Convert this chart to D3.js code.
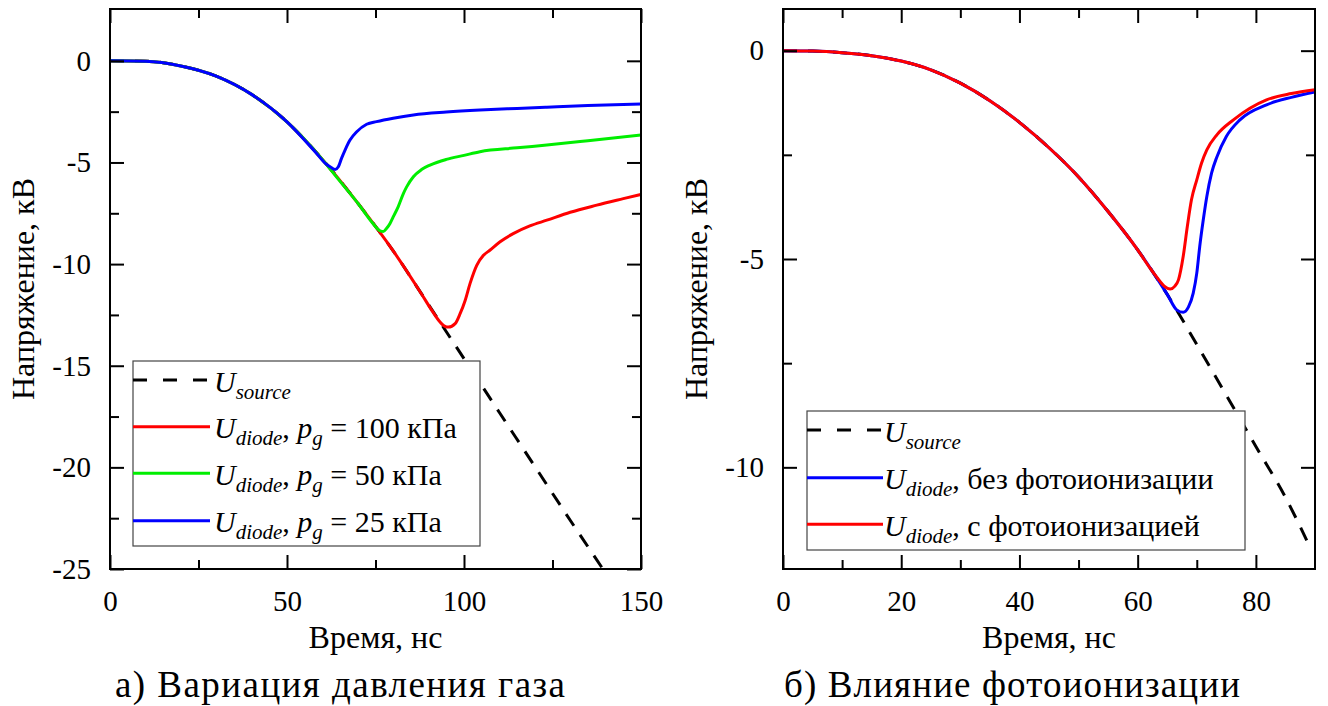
<!DOCTYPE html>
<html>
<head>
<meta charset="utf-8">
<script src="https://cdn.jsdelivr.net/npm/d3@7"></script>
<style>
  body { margin: 0; background: #fff; }
  svg text, svg tspan { font-family: 'Liberation Serif', 'Times New Roman', Times, serif; }
</style>
</head>
<body>
<script>
// ---- panel а: gas pressure variation ----
var tSourceA = [0, 10, 20, 30, 40, 50, 60, 70, 80, 90, 100, 110, 120, 130, 140, 150];
var uSourceA = [0, -0.02, -0.25, -0.75, -1.65, -3.0, -4.85, -7.0, -9.35, -12.0, -14.65, -17.3, -19.95, -22.6, -25.2, -27.8];

var t100 = [0, 10, 20, 30, 40, 50, 60, 70, 80, 88, 91, 93, 94.5, 95.6, 97.5, 98.9, 100.3, 101.7, 103.6, 105.5, 107.3, 110.2, 113.9, 118.6, 123.4, 130, 137.5, 145, 150];
var u100 = [0, -0.02, -0.25, -0.75, -1.65, -3.0, -4.85, -7.0, -9.35, -11.47, -12.3, -12.8, -13.05, -13.1, -12.93, -12.44, -11.8, -10.96, -10.06, -9.57, -9.32, -8.9, -8.5, -8.12, -7.84, -7.45, -7.1, -6.78, -6.57];

var t50 = [0, 10, 20, 30, 40, 50, 60, 65, 70, 74, 75.5, 76.5, 77.2, 78.1, 79.1, 80, 81.4, 82.9, 83.8, 85.7, 88, 90.4, 95, 100, 104.5, 115, 123.4, 135, 150];
var u50 = [0, -0.02, -0.25, -0.75, -1.65, -3.0, -4.85, -5.93, -7.0, -7.94, -8.25, -8.38, -8.4, -8.25, -8.0, -7.68, -7.18, -6.52, -6.2, -5.7, -5.35, -5.13, -4.85, -4.65, -4.47, -4.28, -4.14, -3.93, -3.65];

var t25 = [0, 10, 20, 30, 40, 50, 58, 61, 62.5, 63.6, 64.5, 65.4, 66.4, 67.8, 69.7, 72.5, 75.3, 80, 85.7, 95, 104.5, 115, 123.4, 135, 150];
var u25 = [0, -0.02, -0.25, -0.75, -1.65, -3.0, -4.48, -5.07, -5.25, -5.34, -5.21, -4.8, -4.39, -3.9, -3.49, -3.12, -2.99, -2.82, -2.66, -2.52, -2.42, -2.34, -2.28, -2.2, -2.12];

// ---- panel б: photoionization ----
var tSourceB = [0, 5, 10, 15, 20, 25, 30, 35, 40, 45, 50, 55, 60, 65, 70, 75, 80, 85, 89];
var uSourceB = [0, -0.01, -0.05, -0.12, -0.25, -0.46, -0.78, -1.2, -1.72, -2.33, -3.03, -3.86, -4.78, -5.85, -7.05, -8.27, -9.5, -10.72, -11.87];

var tNoPhoto = [0, 5, 10, 15, 20, 25, 30, 35, 40, 45, 50, 55, 60, 65, 66.6, 67.7, 68.6, 69.4, 70, 70.5, 71.1, 71.7, 72.5, 73.4, 75, 77.3, 81.8, 86, 90];
var uNoPhoto = [0, -0.01, -0.05, -0.12, -0.25, -0.46, -0.78, -1.2, -1.72, -2.33, -3.03, -3.86, -4.78, -5.85, -6.22, -6.28, -6.15, -5.82, -5.34, -4.7, -4.06, -3.5, -2.94, -2.55, -2.06, -1.66, -1.3, -1.12, -0.99];

var tPhoto = [0, 5, 10, 15, 20, 25, 30, 35, 40, 45, 50, 55, 60, 62, 63.2, 64.5, 65.5, 66.3, 66.9, 67.7, 68.4, 69.1, 70, 70.8, 71.7, 73.4, 76.2, 81.8, 86, 90];
var uPhoto = [0, -0.01, -0.05, -0.12, -0.25, -0.46, -0.78, -1.2, -1.72, -2.33, -3.03, -3.86, -4.78, -5.2, -5.43, -5.65, -5.72, -5.65, -5.5, -4.94, -4.22, -3.58, -3.1, -2.7, -2.38, -2.02, -1.66, -1.18, -1.03, -0.94];

// ---- ticks and labels ----
var xMajorA = [0, 50, 100, 150], xMinorA = [25, 75, 125];
var yMajorA = [0, -5, -10, -15, -20, -25], yMinorA = [-2.5, -7.5, -12.5, -17.5, -22.5];
var xMajorB = [0, 20, 40, 60, 80], xMinorB = [10, 30, 50, 70];
var yMajorB = [0, -5, -10], yMinorB = [-2.5, -7.5];

var xTitle = "Время, нс";
var yTitle = "Напряжение, кВ";
var captionA = "а) Вариация давления газа";
var captionB = "б) Влияние фотоионизации";

var legendA = [
  { sub: "source", pg: null, tail: null, color: "#000", dash: true },
  { sub: "diode", pg: " = 100 кПа", tail: null, color: "#ff0000" },
  { sub: "diode", pg: " = 50 кПа", tail: null, color: "#00ee00" },
  { sub: "diode", pg: " = 25 кПа", tail: null, color: "#0000ff" }
];
var legendB = [
  { sub: "source", pg: null, tail: null, color: "#000", dash: true },
  { sub: "diode", pg: null, tail: ", без фотоионизации", color: "#0000ff" },
  { sub: "diode", pg: null, tail: ", с фотоионизацией", color: "#ff0000" }
];

var SERIF = "'Liberation Serif', 'Times New Roman', Times, serif";

var svg = d3.select("body").append("svg")
  .attr("width", 1328).attr("height", 706)
  .style("display", "block")
  .attr("font-family", SERIF);

function zip(t, u) { return t.map(function (d, i) { return [d, u[i]]; }); }

function serifText(sel, size) {
  return sel.attr("font-family", SERIF).style("font-family", SERIF).attr("font-size", size);
}

function drawPanel(p) {
  var g = svg.append("g").attr("font-family", SERIF);
  var x = d3.scaleLinear().domain(p.xDomain).range([p.left, p.right]);
  var y = d3.scaleLinear().domain(p.yDomain).range([p.bottom, p.top]);

  g.append("clipPath").attr("id", "clip-" + p.id)
    .append("rect")
    .attr("x", p.left).attr("y", p.top)
    .attr("width", p.right - p.left).attr("height", p.bottom - p.top);

  var line = d3.line()
    .x(function (d) { return x(d[0]); })
    .y(function (d) { return y(d[1]); })
    .curve(d3.curveMonotoneX);

  var curves = g.append("g").attr("clip-path", "url(#clip-" + p.id + ")");
  p.series.forEach(function (s) {
    curves.append("path")
      .attr("d", line(zip(s.t, s.u)))
      .attr("fill", "none")
      .attr("stroke", s.color)
      .attr("stroke-width", 3)
      .attr("stroke-dasharray", s.dash ? "14,11" : null)
      .attr("stroke-linejoin", "round");
  });

  // legend
  var lg = g.append("g");
  lg.append("rect")
    .attr("x", p.legend.x).attr("y", p.legend.y)
    .attr("width", p.legend.w).attr("height", p.legend.h)
    .attr("fill", "#fff").attr("stroke", "#444").attr("stroke-width", 1.2);
  p.legend.items.forEach(function (it, i) {
    var ly = p.legend.rows[i];
    lg.append("line")
      .attr("x1", p.legend.x).attr("x2", p.legend.x + p.legend.sample)
      .attr("y1", ly).attr("y2", ly)
      .attr("stroke", it.color).attr("stroke-width", 3)
      .attr("stroke-dasharray", it.dash ? "14,16" : null);
    var t = serifText(lg.append("text"), 30)
      .attr("x", p.legend.textX).attr("y", ly + 11.5);
    t.append("tspan").attr("font-style", "italic").text("U");
    t.append("tspan").attr("font-style", "italic").attr("font-size", 21).attr("dy", 7).text(it.sub);
    if (it.pg) {
      t.append("tspan").attr("dy", -7).text(", ");
      t.append("tspan").attr("font-style", "italic").text("p");
      t.append("tspan").attr("font-style", "italic").attr("font-size", 21).attr("dy", 7).text("g");
      t.append("tspan").attr("dy", -7).text(it.pg);
    }
    if (it.tail) {
      t.append("tspan").attr("dy", -7).text(it.tail);
    }
  });

  // axes: inward ticks on all four sides
  function axis(fn, scale, tr, values, size, labels) {
    var a = fn(scale).tickValues(values).tickSizeInner(-size).tickSizeOuter(0)
      .tickPadding(labels ? p.pad : 0)
      .tickFormat(labels ? function (d) { return String(d); } : function () { return ""; });
    var ag = g.append("g").attr("transform", tr).call(a);
    ag.select(".domain").remove();
    ag.attr("font-family", SERIF).attr("font-size", 29);
    ag.selectAll("line").attr("stroke", "#000").attr("stroke-width", 2);
    serifText(ag.selectAll("text"), 29).attr("fill", "#000");
    return ag;
  }
  var bt = "translate(0," + p.bottom + ")", tp = "translate(0," + p.top + ")";
  var lf = "translate(" + p.left + ",0)", rt = "translate(" + p.right + ",0)";
  axis(d3.axisBottom, x, bt, p.xMinor, 9, false);
  axis(d3.axisBottom, x, bt, p.xMajor, 14, true).selectAll("text").attr("dy", null).attr("y", 42);
  axis(d3.axisTop, x, tp, p.xMinor, 9, false);
  axis(d3.axisTop, x, tp, p.xMajor, 14, false);
  axis(d3.axisLeft, y, lf, p.yMinor, 9, false);
  axis(d3.axisLeft, y, lf, p.yMajor, 14, true);
  axis(d3.axisRight, y, rt, p.yMinor, 9, false);
  axis(d3.axisRight, y, rt, p.yMajor, 14, false);

  g.append("rect")
    .attr("x", p.left).attr("y", p.top)
    .attr("width", p.right - p.left).attr("height", p.bottom - p.top)
    .attr("fill", "none").attr("stroke", "#000").attr("stroke-width", 2);

  serifText(g.append("text"), 32)
    .attr("x", (p.left + p.right) / 2).attr("y", 648)
    .attr("text-anchor", "middle")
    .text(xTitle);
  serifText(g.append("text"), 32)
    .attr("transform", "translate(" + (p.left - 76) + "," + ((p.top + p.bottom) / 2) + ") rotate(-90)")
    .attr("text-anchor", "middle")
    .text(yTitle);
  serifText(g.append("text"), 37)
    .attr("x", p.capX).attr("y", 697)
    .attr("textLength", p.capW)
    .text(p.caption);
}

drawPanel({
  id: "a", left: 110, right: 641, top: 9, bottom: 569, pad: 19,
  xDomain: [0, 150], yDomain: [-25, 2.55],
  xMajor: xMajorA, xMinor: xMinorA, yMajor: yMajorA, yMinor: yMinorA,
  series: [
    { t: tSourceA, u: uSourceA, color: "#000", dash: true },
    { t: t100, u: u100, color: "#ff0000" },
    { t: t50, u: u50, color: "#00ee00" },
    { t: t25, u: u25, color: "#0000ff" }
  ],
  legend: { x: 133, y: 361, w: 347, h: 185, sample: 77, textX: 214,
            rows: [380, 426.7, 473.3, 520.7], items: legendA },
  caption: captionA, capX: 115, capW: 450
});

drawPanel({
  id: "b", left: 783, right: 1315, top: 9, bottom: 569, pad: 19,
  xDomain: [0, 90], yDomain: [-12.44, 1.0],
  xMajor: xMajorB, xMinor: xMinorB, yMajor: yMajorB, yMinor: yMinorB,
  series: [
    { t: tSourceB, u: uSourceB, color: "#000", dash: true },
    { t: tNoPhoto, u: uNoPhoto, color: "#0000ff" },
    { t: tPhoto, u: uPhoto, color: "#ff0000" }
  ],
  legend: { x: 807, y: 411, w: 438, h: 139, sample: 76, textX: 884,
            rows: [430, 477.7, 524.3], items: legendB },
  caption: captionB, capX: 784, capW: 456
});
</script>
</body>
</html>
